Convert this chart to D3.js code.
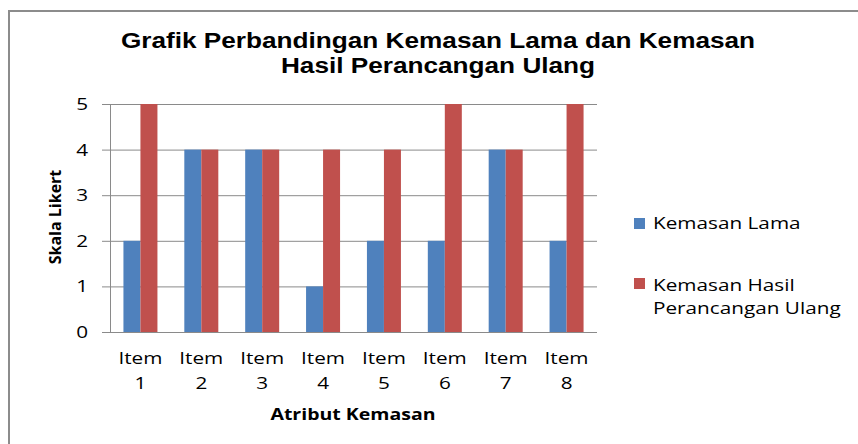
<!DOCTYPE html>
<html>
<head>
<meta charset="utf-8">
<script src="https://cdn.jsdelivr.net/npm/d3@7"></script>
<style>
body { margin: 0; background: #fff; }
</style>
</head>
<body>
<div id="chart"></div>
<script>
let items = ["Item 1", "Item 2", "Item 3", "Item 4", "Item 5", "Item 6", "Item 7", "Item 8"];
let kemasanLama = [2, 4, 4, 1, 2, 2, 4, 2];
let kemasanHasil = [5, 4, 4, 4, 4, 5, 4, 5];
let yTicks = [0, 1, 2, 3, 4, 5];
let seriesNames = ["Kemasan Lama", "Kemasan Hasil Perancangan Ulang"];
let colors = ["#4F81BD", "#C0504D"];

// the original picture is a bit wider than tall, so text is widened a little
let stretch = 1.22;

let svg = d3.select("#chart").append("svg")
    .attr("width", 858)
    .attr("height", 444);

// frame of the chart
svg.append("path")
    .attr("d", "M9,444 V11 H858")
    .attr("fill", "none")
    .attr("stroke", "#8c8c8c")
    .attr("stroke-width", 2);

let margin = {top: 104, left: 110},
    width = 487,
    height = 228;

let g = svg.append("g").attr("transform", "translate(" + margin.left + "," + margin.top + ")");

let xScale = d3.scaleBand().domain(items).range([0, width]);
let yScale = d3.scaleLinear().domain([0, 5]).range([height, 0]);

function wideText(parent, x, y, str, size, anchor, weight, family, sx)
{
    return parent.append("text")
        .attr("transform", "translate(" + x + "," + y + ") scale(" + (sx || stretch) + ",1)")
        .attr("text-anchor", anchor)
        .attr("font-family", family || "Open Sans")
        .attr("font-weight", weight || "normal")
        .attr("font-size", size)
        .attr("fill", "#000")
        .text(str);
}

// gridlines
g.selectAll(".grid")
    .data(yTicks)
    .enter().append("line")
    .attr("x1", -8)
    .attr("x2", width)
    .attr("y1", (d) => yScale(d) + 0.5)
    .attr("y2", (d) => yScale(d) + 0.5)
    .attr("stroke", "#8a8a8a")
    .attr("stroke-width", 1);

// y labels
yTicks.forEach(function (t) {
    wideText(g, -22, yScale(t) + 6, t, 17, "end");
});

let barW = 17;
let groups = [kemasanLama, kemasanHasil];
groups.forEach(function (values, s) {
    g.selectAll(".bar" + s)
        .data(values)
        .enter().append("rect")
        .attr("x", (d, i) => xScale(items[i]) + xScale.bandwidth() / 2 - barW + s * barW)
        .attr("y", (d) => yScale(d))
        .attr("width", barW)
        .attr("height", (d) => height - yScale(d))
        .attr("fill", colors[s]);
});

// axes lines
g.append("line")
    .attr("x1", 0.5).attr("x2", 0.5)
    .attr("y1", 0).attr("y2", height)
    .attr("stroke", "#8a8a8a");
g.append("line")
    .attr("x1", 0).attr("x2", width)
    .attr("y1", height + 0.5).attr("y2", height + 0.5)
    .attr("stroke", "#8a8a8a");

// x labels, two lines each
items.forEach(function (item) {
    let cx = xScale(item) + xScale.bandwidth() / 2;
    let parts = item.split(" ");
    wideText(g, cx, height + 32, parts[0], 17, "middle");
    wideText(g, cx, height + 57, parts[1], 17, "middle");
});

// axis titles
wideText(svg, 353, 420, "Atribut Kemasan", 16, "middle", "bold");

svg.append("text")
    .attr("transform", "translate(61,217) rotate(-90)")
    .attr("text-anchor", "middle")
    .attr("font-family", "Open Sans")
    .attr("font-weight", "bold")
    .attr("font-size", 16)
    .text("Skala Likert");

// title
wideText(svg, 438, 48, "Grafik Perbandingan Kemasan Lama dan Kemasan", 22, "middle", "bold", "Liberation Sans", 1.19);
wideText(svg, 438, 73, "Hasil Perancangan Ulang", 22, "middle", "bold", "Liberation Sans", 1.19);

// legend
let legendY = [223, 283];
seriesNames.forEach(function (name, s) {
    svg.append("rect")
        .attr("x", 634)
        .attr("y", legendY[s] - 5)
        .attr("width", 11)
        .attr("height", 11)
        .attr("fill", colors[s]);
    if (s === 0) {
        wideText(svg, 653, 229, name, 17, "start");
    } else {
        wideText(svg, 653, 291, "Kemasan Hasil", 17, "start");
        wideText(svg, 653, 314, "Perancangan Ulang", 17, "start");
    }
});
</script>
</body>
</html>
